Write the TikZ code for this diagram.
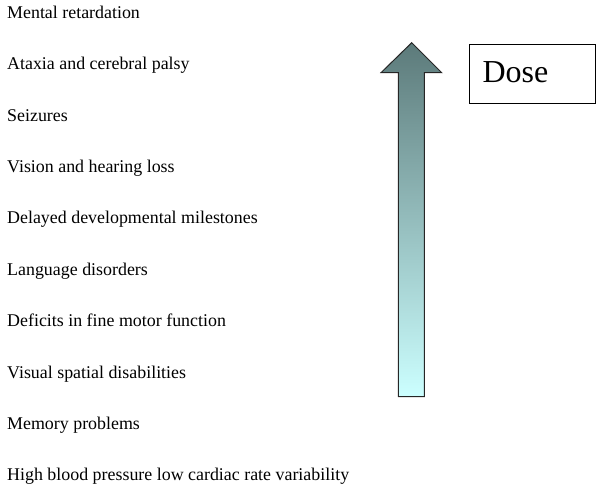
\documentclass[tikz,border=0pt]{standalone}
\usepackage{fontspec}
\setmainfont{Liberation Serif}
\begin{document}
\begin{tikzpicture}[x=1pt,y=-1pt,
  item/.style={anchor=base west,inner sep=0pt,font=\fontsize{17.9}{20}\selectfont},
  dosebox/.style={draw=black,line width=1pt,anchor=north west,minimum width=126pt,minimum height=59pt,
    text width=100pt,inner xsep=12.5pt,align=left,text depth=4.5pt,font=\fontsize{32}{36}\selectfont}]
\useasboundingbox (0,0) rectangle (600,487);
\definecolor{arrtop}{RGB}{92,122,122}
\definecolor{arrbot}{RGB}{204,255,255}
\node[item] (t1) at (7,18.3) {Mental retardation};
\node[item] (t2) at (7,69.7) {Ataxia and cerebral palsy};
\node[item] (t3) at (7,121.1) {Seizures};
\node[item] (t4) at (7,172.5) {Vision and hearing loss};
\node[item] (t5) at (7,223.9) {Delayed developmental milestones};
\node[item] (t6) at (7,275.3) {Language disorders};
\node[item] (t7) at (7,326.7) {Deficits in fine motor function};
\node[item] (t8) at (7,378.1) {Visual spatial disabilities};
\node[item] (t9) at (7,429.5) {Memory problems};
\node[item] (t10) at (7,480.9) {High blood pressure low cardiac rate variability};
\shade[top color=arrtop,bottom color=arrbot,draw=black!85,line width=1pt,line join=miter]
  (398.3,396.7) -- (398.3,72.7) -- (381,72.7) -- (411.7,42.7) -- (441.7,72.7) -- (424.3,72.7) -- (424.3,396.7) -- cycle;
\node[dosebox] (dose) at (469,44) {Dose};
\end{tikzpicture}
\end{document}
